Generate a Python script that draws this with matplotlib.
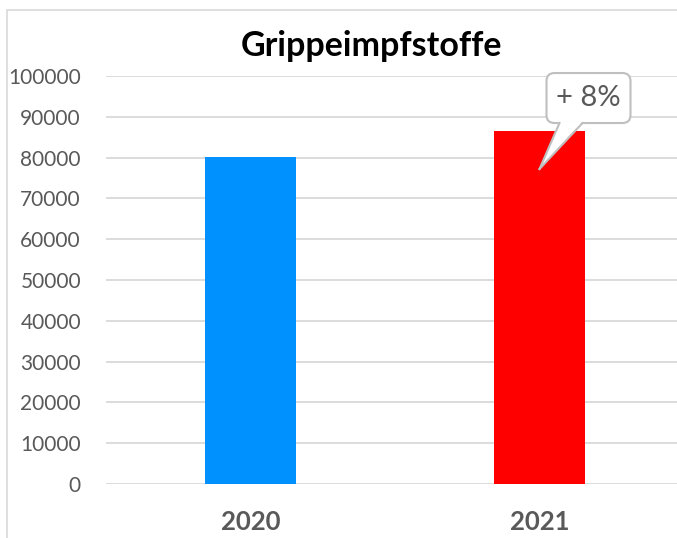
import matplotlib
matplotlib.use("Agg")
import matplotlib.pyplot as plt
import matplotlib.transforms as mtransforms
from matplotlib.patches import FancyBboxPatch, Polygon, Rectangle
from matplotlib.lines import Line2D

categories = ["2020", "2021"]
values = [80200, 86600]
colors = ["#0091FF", "#FF0000"]
yticks = [0, 10000, 20000, 30000, 40000, 50000, 60000, 70000, 80000, 90000, 100000]
title = "Grippeimpfstoffe"
callout_text = "+ 8%"

plt.rcParams['font.family'] = ['Lato', 'DejaVu Sans']

W, H = 677, 538
fig = plt.figure(figsize=(W / 100, H / 100), dpi=100)

# chart border
fig.patches.append(Rectangle((7 / W, -0.1), 1.2, (H - 10) / H + 0.1, transform=fig.transFigure,
                             fill=False, ec="#D9D9D9", lw=1.2, zorder=0))

ax = fig.add_axes([106 / W, 54 / H, (684 - 106) / W, 408 / H])
x = list(range(len(categories)))
ax.bar(x, values, width=0.315, color=colors, zorder=3)
ax.set_xlim(-0.5, 1.5)
ax.set_ylim(0, 100000)
ax.set_yticks(yticks)
ax.set_yticklabels([str(v) for v in yticks])
ax.set_xticks(x)
ax.set_xticklabels(categories)
for s in ax.spines.values():
    s.set_visible(False)
ax.grid(axis="y", color="#D9D9D9", lw=1.3, zorder=1)
ax.set_axisbelow(True)
ax.tick_params(axis="y", length=0, pad=18, labelsize=15, labelcolor="#595959")
ax.tick_params(axis="x", length=0, pad=19, labelsize=18.5, labelcolor="#595959")
for lab in ax.get_xticklabels():
    lab.set_fontweight("bold")

fig.text(372 / W, 1 - 46 / H, title, ha="center", va="center", fontsize=24.5,
         fontweight="bold", color="black")

# callout anchored at tip inside 2021 bar
tip = (1, 77200)
px = 1 / 100.0  # inches per pixel
trans = fig.dpi_scale_trans + mtransforms.ScaledTranslation(tip[0], tip[1], ax.transData)
bx0, bx1, by0, by1 = 7, 91, 46, 96
box = FancyBboxPatch((bx0 * px, by0 * px), (bx1 - bx0) * px, (by1 - by0) * px,
                     boxstyle="round,pad=0,rounding_size=%f" % (8 * px),
                     transform=trans, fc="white", ec="#BFBFBF", lw=1.5, zorder=5,
                     clip_on=False)
fig.patches.append(box)
wedge = Polygon([(0, 0), (20 * px, (by0 + 1.5) * px), (43 * px, (by0 + 1.5) * px)],
                closed=True, transform=trans, fc="white", ec="none", zorder=6)
fig.patches.append(wedge)
for (xa, ya) in [(20, by0), (43, by0)]:
    fig.lines.append(Line2D([0, xa * px], [0, ya * px], transform=trans,
                            color="#BFBFBF", lw=1.5, zorder=7))
fig.text(49 * px, 71 * px, callout_text, transform=trans, ha="center", va="center",
         fontsize=21, color="#595959", zorder=8)

fig.savefig("out.png", dpi=100)
